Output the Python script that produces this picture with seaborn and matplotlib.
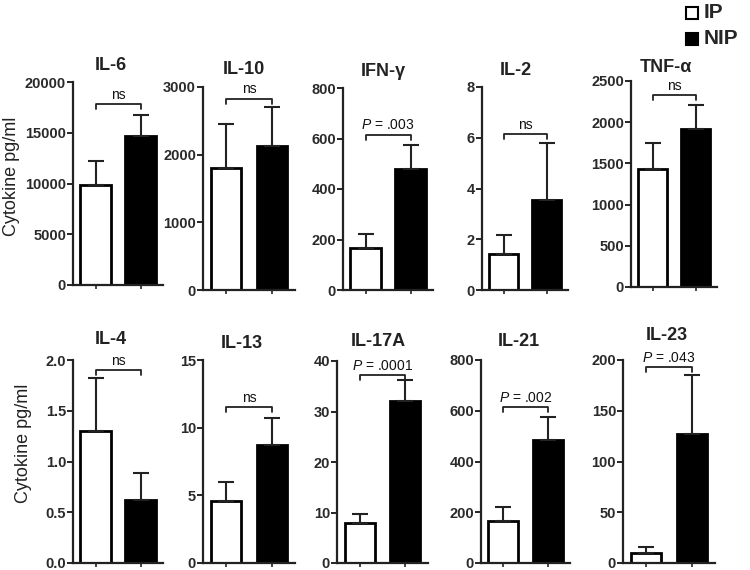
import numpy as np
import pandas as pd
import matplotlib
matplotlib.use('Agg')
import matplotlib.pyplot as plt
import seaborn as sns

# cytokine levels (mean and upper SEM) for IP and NIP groups
groups = ['IP', 'NIP']

top_names = ['IL-6', 'IL-10', 'IFN-γ', 'IL-2', 'TNF-α']
top_ip = [9900, 1800, 165, 1.4, 1430]
top_ip_err = [2300, 650, 55, 0.75, 320]
top_nip = [14700, 2130, 480, 3.55, 1920]
top_nip_err = [2000, 580, 95, 2.25, 290]
top_ymax = [20000, 3000, 800, 8, 2500]
top_step = [5000, 1000, 200, 2, 500]
top_sig = ['ns', 'ns', '$\\it{P}$ = .003', 'ns', 'ns']
top_bracket = [17800, 2830, 615, 6.15, 2330]

bot_names = ['IL-4', 'IL-13', 'IL-17A', 'IL-21', 'IL-23']
bot_ip = [1.3, 4.6, 8.0, 165, 10]
bot_ip_err = [0.52, 1.4, 1.8, 55, 6]
bot_nip = [0.62, 8.7, 32, 485, 127]
bot_nip_err = [0.27, 2.0, 4.2, 90, 58]
bot_ymax = [2.0, 15, 40, 800, 200]
bot_step = [0.5, 5, 10, 200, 50]
bot_sig = ['ns', 'ns', '$\\it{P}$ = .0001', '$\\it{P}$ = .002', '$\\it{P}$ = .043']
bot_bracket = [1.9, 11.5, 37.2, 615, 193]

sns.set_style('ticks')
plt.rcParams['font.family'] = ['Liberation Sans', 'DejaVu Sans']
plt.rcParams['mathtext.fontset'] = 'custom'
plt.rcParams['mathtext.rm'] = 'Liberation Sans'
plt.rcParams['mathtext.it'] = 'Liberation Sans:italic'

W, H = 750, 570
fig = plt.figure(figsize=(7.5, 5.7), dpi=100)

# pixel boxes (x0, x1, ytop, ybottom) and title centres for each panel
top_boxes = [(73, 163, 82, 285), (203, 295, 87, 290), (343, 433, 88, 290),
             (482, 568, 87, 290), (631, 717, 81, 287)]
bot_boxes = [(73, 163, 360, 563), (203, 295, 360, 563), (337, 428, 361, 563),
             (481, 570, 360, 563), (623, 715, 360, 563)]
top_title_xy = [(111, 65), (244, 69), (383, 72), (516, 71), (666, 67)]
bot_title_xy = [(111, 340), (242, 343), (378, 342), (519, 342), (667, 335)]


def panel(box, txy, name, ip, ip_e, nip, nip_e, ymax, step, sig, bh):
    x0, x1, yt, yb = box
    ax = fig.add_axes([x0 / W, 1 - yb / H, (x1 - x0) / W, (yb - yt) / H])
    df = pd.DataFrame({'group': groups, 'value': [ip, nip]})
    sns.barplot(data=df, x='group', y='value', hue='group',
                palette=['white', 'black'], edgecolor='black', linewidth=2,
                width=0.67, errorbar=None, legend=False, ax=ax)
    ax.errorbar([0, 1], [ip, nip], yerr=[[0, 0], [ip_e, nip_e]], fmt='none',
                ecolor='#222222', elinewidth=1.5, capsize=5.5, capthick=1.5, zorder=1)
    ax.set_xlim(-0.5, 1.5)
    ax.set_ylim(0, ymax)
    ticks = np.arange(0, ymax + step / 2, step)
    ax.set_yticks(ticks)
    if step < 1:
        ax.set_yticklabels([f'{t:.1f}' for t in ticks])
    else:
        ax.set_yticklabels([f'{int(t)}' for t in ticks])
    ax.set_xticks([0, 1])
    ax.set_xticklabels(['', ''])
    ax.set_xlabel('')
    ax.set_ylabel('')
    for s in ['top', 'right']:
        ax.spines[s].set_visible(False)
    for s in ['left', 'bottom']:
        ax.spines[s].set_linewidth(1.6)
        ax.spines[s].set_color('#222222')
    ax.tick_params(axis='y', length=4, width=1.4, pad=1, labelsize=10.5)
    ax.tick_params(axis='x', length=3, width=1.2)
    for lab in ax.get_yticklabels():
        lab.set_fontweight('bold')
        lab.set_color('#2a2a2a')
    fig.text(txy[0] / W, 1 - txy[1] / H, name, fontsize=13, fontweight='bold',
             ha='center', va='center', color='#222222')
    # significance bracket
    d = ymax * 0.025
    ax.plot([0, 0, 1, 1], [bh - d, bh, bh, bh - d], color='#222222', lw=1.3,
            clip_on=False)
    ax.text(0.5, bh + ymax * 0.012, sig, ha='center', va='bottom', fontsize=10,
            color='#111111', clip_on=False)
    return ax


for i in range(5):
    panel(top_boxes[i], top_title_xy[i], top_names[i], top_ip[i], top_ip_err[i],
          top_nip[i], top_nip_err[i], top_ymax[i], top_step[i], top_sig[i],
          top_bracket[i])
    panel(bot_boxes[i], bot_title_xy[i], bot_names[i], bot_ip[i], bot_ip_err[i],
          bot_nip[i], bot_nip_err[i], bot_ymax[i], bot_step[i], bot_sig[i],
          bot_bracket[i])

fig.text(12 / W, 1 - 176 / H, 'Cytokine pg/ml', rotation=90, ha='center',
         va='center', fontsize=13, color='#222222')
fig.text(24 / W, 1 - 443 / H, 'Cytokine pg/ml', rotation=90, ha='center',
         va='center', fontsize=13, color='#222222')

# legend
lax = fig.add_axes([0, 0, 1, 1], facecolor='none')
lax.set_xlim(0, W)
lax.set_ylim(H, 0)
lax.axis('off')
for j, (g, c) in enumerate(zip(groups, ['white', 'black'])):
    y = 13 + j * 26
    lax.add_patch(plt.Rectangle((686, y - 6), 12, 12, facecolor=c,
                                edgecolor='black', lw=1.5))
    lax.text(704, y, g, fontsize=15, fontweight='bold', va='center', ha='left')

fig.savefig('out.png', dpi=100)
